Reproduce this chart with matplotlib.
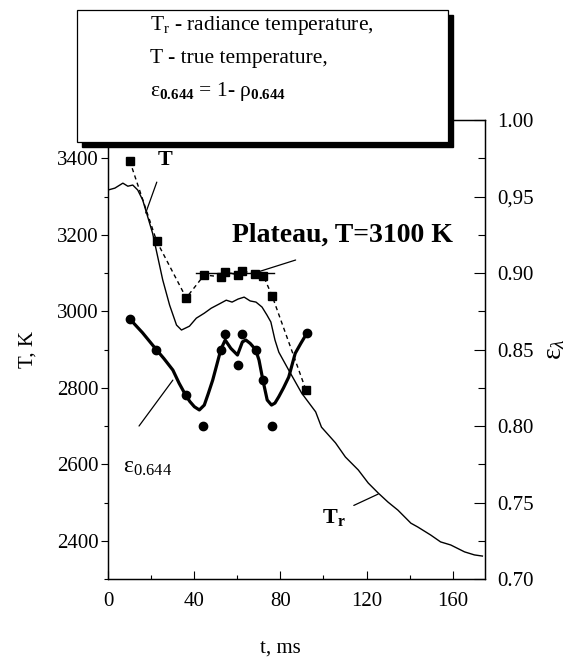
import matplotlib
matplotlib.use('Agg')
import matplotlib.pyplot as plt
from matplotlib.patches import Rectangle
from matplotlib.ticker import FixedLocator

plt.rcParams['font.family'] = ['Liberation Serif', 'DejaVu Serif']
plt.rcParams['mathtext.fontset'] = 'custom'
plt.rcParams['mathtext.rm'] = 'Liberation Serif'
plt.rcParams['mathtext.it'] = 'Liberation Serif:italic'
plt.rcParams['mathtext.bf'] = 'Liberation Serif:bold'

# radiance temperature curve T_r (ms, K)
tr_t = [0, 3.2, 6.9, 9.2, 11.5, 13.8, 16.1, 20.7, 25.4, 28.6, 31.8, 34.1, 37.8,
        41.0, 44.7, 47.9, 51.6, 54.9, 57.6, 60.4, 63.2, 66.0, 68.7, 71.5, 73.8,
        75.6, 77.5, 79.3, 83.9, 89.9, 96.4, 99.1, 105.6, 110.2, 116.2, 120.8,
        125.4, 130.0, 134.6, 140.6, 143.8, 149.8, 154.4, 159.1, 165.5, 170.1, 173.8]
tr_T = [3317, 3322, 3335, 3327, 3330, 3317, 3291, 3204, 3082, 3016, 2964, 2951, 2961,
        2982, 2995, 3008, 3019, 3029, 3024, 3032, 3037, 3027, 3024, 3011, 2990,
        2972, 2925, 2893, 2846, 2786, 2737, 2697, 2656, 2619, 2585, 2551,
        2525, 2501, 2480, 2446, 2436, 2415, 2397, 2389, 2371, 2363, 2360]

# true temperature points T
t_true = [10.1, 22.6, 36.3, 44.7, 52.4, 54.3, 60.5, 62.4, 68.1, 72.1, 76.2, 91.9]
T_true = [3393, 3183, 3035, 3095, 3090, 3103, 3095, 3106, 3097, 3093, 3040, 2794]

# plateau
plateau_t = [41, 77]
plateau_T = 3100

# spectral emissivity points
eps_t = [10.1, 22.4, 36.0, 44.3, 52.4, 54.4, 60.4, 62.4, 68.5, 71.9, 75.9, 92.3]
eps_v = [0.870, 0.850, 0.820, 0.800, 0.850, 0.860, 0.840, 0.860, 0.850, 0.830, 0.800, 0.861]

# fitted emissivity curve
fit_t = [10.1, 16.0, 22.4, 26.0, 30.1, 33.0, 36.0, 38.0, 40.1, 42.4, 44.7, 46.5,
         48.6, 50.5, 52.4, 54.4, 57.0, 60.1, 62.4, 64.0, 66.0, 68.5, 70.1, 71.9,
         73.9, 75.9, 77.5, 79.3, 81.5, 83.9, 86.9, 89.5, 92.3]
fit_v = [0.870, 0.861, 0.850, 0.844, 0.8366, 0.828, 0.8203, 0.816, 0.8126, 0.8105, 0.8137, 0.821,
         0.830, 0.840, 0.8501, 0.8562, 0.8508, 0.8464, 0.855, 0.8562, 0.854, 0.850, 0.8431, 0.830,
         0.817, 0.8137, 0.815, 0.8192, 0.825, 0.832, 0.8475, 0.854, 0.8606]

fig = plt.figure(figsize=(5.87, 6.65), dpi=100)
ax = fig.add_axes([0.184, 0.1293, 0.6422, 0.6902])
ax2 = ax.twinx()

ax.plot(tr_t, tr_T, color='k', lw=1.0)
ax.plot(t_true, T_true, color='k', ls=(0, (3, 2.5)), lw=1.0, marker='s', ms=5.5)
ax.plot(plateau_t, [plateau_T, plateau_T], color='k', lw=1.0)
ax2.plot(fit_t, fit_v, color='k', lw=2.3)
ax2.plot(eps_t, eps_v, 'o', color='k', ms=6)

ax.set_xlim(0, 175)
ax.set_ylim(2300, 3500)
ax2.set_ylim(0.70, 1.00)

ax.set_xticks([0, 40, 80, 120, 160])
ax.xaxis.set_minor_locator(FixedLocator([20, 60, 100, 140]))
ax.set_yticks([2400, 2600, 2800, 3000, 3200, 3400])
ax.yaxis.set_minor_locator(FixedLocator([2300, 2500, 2700, 2900, 3100, 3300, 3500]))
ax2.set_yticks([0.70, 0.75, 0.80, 0.85, 0.90, 0.95, 1.00])
ax2.set_yticklabels(['0.70', '0.75', '0.80', '0.85', '0.90', '0,95', '1.00'])
ax2.yaxis.set_minor_locator(FixedLocator([0.725, 0.775, 0.825, 0.875, 0.925, 0.975]))

ax.tick_params(axis='x', which='major', direction='in', length=6, width=0.8, labelsize=15, pad=9, top=False)
ax.tick_params(axis='x', which='minor', direction='in', length=3, width=0.8, top=False)
ax.tick_params(axis='y', which='major', direction='out', length=5, width=0.8, labelsize=15, pad=2)
ax.tick_params(axis='y', which='minor', direction='out', length=3, width=0.8)
ax2.tick_params(axis='y', which='major', direction='in', length=8, width=0.8, labelsize=15, pad=9)
ax2.tick_params(axis='y', which='minor', direction='in', length=5, width=0.8)
for a in (ax, ax2):
    for s in a.spines.values():
        s.set_linewidth(0.9)

ax.set_xlabel('t, ms', fontsize=15)
ax.xaxis.set_label_coords(0.456, -0.13)
ax.set_ylabel('T, K', fontsize=15, labelpad=14)
ax2.set_ylabel(r'ε$_\lambda$', fontsize=20, labelpad=6)

# annotations
ax.annotate('T', xy=(17.5, 3257), xytext=(26.3, 3395), fontsize=16, fontweight='bold',
            ha='center', va='center',
            arrowprops=dict(arrowstyle='-', color='k', lw=0.9, shrinkA=7, shrinkB=0))
ax.annotate(r'T$_{\mathbf{r}}$', xy=(125.4, 2522), xytext=(105, 2462), fontsize=16,
            fontweight='bold', ha='center', va='center',
            arrowprops=dict(arrowstyle='-', color='k', lw=0.9, shrinkA=4, shrinkB=0,
                            relpos=(0.75, 0.75)))
ax.annotate('Plateau, T=3100 K', xy=(68, 3100), xytext=(57.6, 3199), fontsize=20,
            fontweight='bold', ha='left', va='center')
ax.annotate('', xy=(68, 3100), xytext=(87.1, 3134),
            arrowprops=dict(arrowstyle='-', color='k', lw=0.9, shrinkA=0, shrinkB=0))
ax2.annotate(r'ε$_{0.644}$', xy=(30.1, 0.830), xytext=(18.5, 0.773), fontsize=17,
             ha='center', va='center')
ax2.annotate('', xy=(30.1, 0.830), xytext=(14.4, 0.800),
             arrowprops=dict(arrowstyle='-', color='k', lw=0.9, shrinkA=0, shrinkB=0))

# legend-like box with shadow
shadow = Rectangle((0.131 + 0.0085, 0.786 - 0.0075), 0.632, 0.199, transform=fig.transFigure,
                   facecolor='k', edgecolor='k', zorder=5)
box = Rectangle((0.131, 0.786), 0.632, 0.199, transform=fig.transFigure,
                facecolor='white', edgecolor='k', lw=0.9, zorder=6)
fig.add_artist(shadow)
fig.add_artist(box)
fig.text(0.2555, 0.962, r'T$_{\mathrm{r}}$ - radiance temperature,', fontsize=15.5, va='center', zorder=7)
fig.text(0.2555, 0.912, 'T - true temperature,', fontsize=15.5, va='center', zorder=7)
fig.text(0.2555, 0.862, r'ε$_{\mathbf{0.644}}$ = 1- ρ$_{\mathbf{0.644}}$', fontsize=15.5, va='center', zorder=7)

fig.savefig('out.png', dpi=100)
